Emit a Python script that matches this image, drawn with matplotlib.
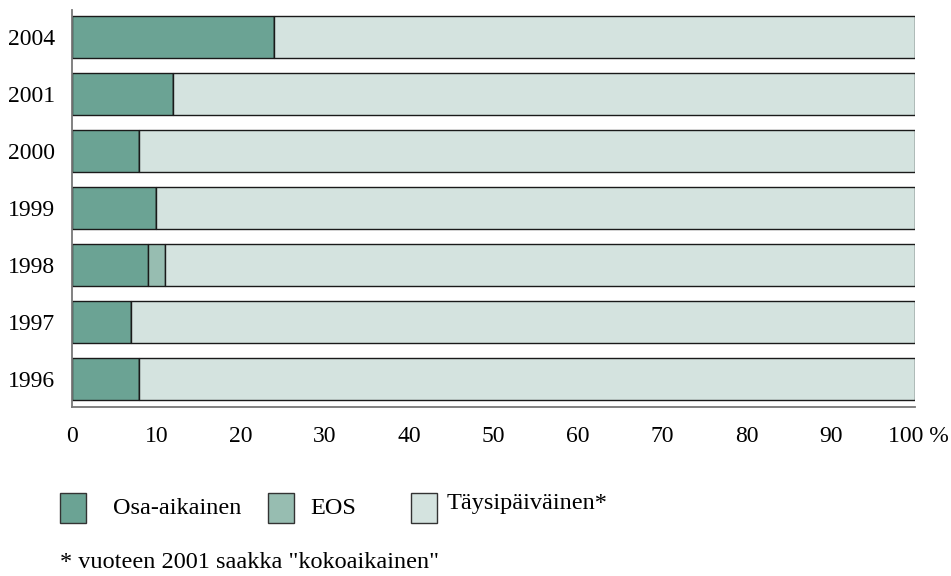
import matplotlib.pyplot as plt
from matplotlib.patches import Rectangle

plt.rcParams['font.family'] = ['Liberation Serif', 'DejaVu Serif']

years = ['1996', '1997', '1998', '1999', '2000', '2001', '2004']
osa = [8, 7, 9, 10, 8, 12, 24]
eos = [0, 0, 2, 0, 0, 0, 0]
taysi = [100 - a - b for a, b in zip(osa, eos)]

labels = ['Osa-aikainen', 'EOS', 'Täysipäiväinen*']
colors = ['#6ba394', '#97bdb1', '#d4e3df']
xticks = list(range(0, 101, 10))
xticklabels = [str(v) for v in xticks[:-1]] + ['100 %']

W, H = 951, 576
fig = plt.figure(figsize=(9.51, 5.76), dpi=100)
ax = fig.add_axes([72 / W, 1 - 407 / H, (915 - 72) / W, 397 / H])

ypos = list(range(len(years)))
left = [0] * len(years)
for vals, col in zip([osa, eos, taysi], colors):
    ax.barh(ypos, vals, left=left, height=0.74, color=col,
            edgecolor='#1a1a1a', linewidth=1.0)
    left = [l + v for l, v in zip(left, vals)]

ax.set_xlim(0, 100)
ax.set_ylim(-0.49, 6.48)
ax.set_yticks(ypos)
ax.set_yticklabels(years, fontsize=17)
ax.set_xticks(xticks)
ax.set_xticklabels(xticklabels, fontsize=17)
ax.tick_params(axis='y', length=0, pad=12)
ax.tick_params(axis='x', length=0, pad=14)
# nudge "100 %" so the number sits near the axis end
ax.get_xticklabels()[-1].set_horizontalalignment('left')
ax.get_xticklabels()[-1].set_x(100)
from matplotlib.transforms import ScaledTranslation
ax.get_xticklabels()[-1].set_transform(
    ax.get_xticklabels()[-1].get_transform() + ScaledTranslation(-0.27, 0, fig.dpi_scale_trans))

for s in ['top', 'right']:
    ax.spines[s].set_visible(False)
for s in ['left', 'bottom']:
    ax.spines[s].set_color('#777777')
    ax.spines[s].set_linewidth(1.3)

# legend drawn by hand
leg = [(60, 113, 508), (268, 310, 508), (411, 447, 503)]
for (bx, tx, ty), lab, col in zip(leg, labels, colors):
    fig.patches.append(Rectangle((bx / W, 1 - 523 / H), 26 / W, 30 / H,
                                 transform=fig.transFigure, facecolor=col,
                                 edgecolor='#333333', linewidth=1.0))
    fig.text(tx / W, 1 - ty / H, lab, fontsize=17.5, va='center', ha='left')

fig.text(60 / W, 1 - 562 / H, '* vuoteen 2001 saakka "kokoaikainen"',
         fontsize=17.5, va='center', ha='left')

fig.savefig('out.png', dpi=100)
